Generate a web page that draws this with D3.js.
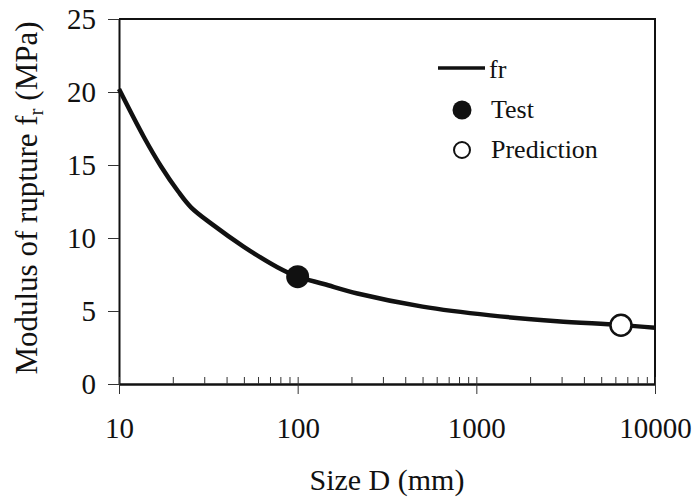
<!DOCTYPE html>
<html>
<head>
<meta charset="utf-8">
<script src="https://cdn.jsdelivr.net/npm/d3@7"></script>
<style>
  body { margin: 0; background: #fff; }
  svg text { font-family: "Liberation Serif", "DejaVu Serif", serif !important; fill: #111; }
</style>
</head>
<body>
<div id="chart"></div>
<script>
// curve fr(D)
const sizeD = [10, 13.8, 17.2, 21.4, 25.3, 32.7, 50, 77, 100, 140, 216, 500, 1200, 2830, 6300, 10000];
const frVals = [20.2, 16.9, 14.9, 13.2, 12.1, 11.0, 9.4, 8.0, 7.35, 6.85, 6.2, 5.3, 4.7, 4.3, 4.05, 3.85];

const testPoint = [[100, 7.35]];
const predPoint = [[6450, 4.02]];

const xMajor = [10, 100, 1000, 10000];
const yTicks = [0, 5, 10, 15, 20, 25];
const legendItems = ['fr', 'Test', 'Prediction'];

const width = 695;
const height = 504;
const margin = { top: 19, right: 40, bottom: 120, left: 119 };
const serif = '"Liberation Serif", "DejaVu Serif", serif';

const svg = d3
  .select('#chart')
  .append('svg')
  .attr('width', width)
  .attr('height', height)
  .attr('font-family', serif);

const x = d3
  .scaleLog()
  .domain([10, 10000])
  .range([margin.left, width - margin.right]);

const y = d3
  .scaleLinear()
  .domain([0, 25])
  .range([height - margin.bottom, margin.top]);

// minor ticks 20..90, 200..900, ...
const xMinor = [];
[10, 100, 1000].forEach((d) => {
  for (let k = 2; k <= 9; k++) xMinor.push(d * k);
});

// frame (top + right)
svg
  .append('path')
  .attr('d', `M${x(10)},${y(25)}H${x(10000)}V${y(0)}`)
  .attr('fill', 'none')
  .attr('stroke', '#111')
  .attr('stroke-width', 2);

// y axis
const yAxis = svg
  .append('g')
  .attr('transform', `translate(${x(10)},0)`)
  .call(d3.axisLeft(y).tickValues(yTicks).tickSize(11).tickPadding(12).tickSizeOuter(0))
  .attr('font-family', serif);

yAxis.select('.domain').attr('stroke', '#111').attr('stroke-width', 2);
yAxis.selectAll('.tick line').attr('stroke', '#333').attr('stroke-width', 1);
yAxis.selectAll('text').attr('font-size', 29).attr('fill', '#111').attr('dy', '0.34em');

// x axis, major ticks downward
const xAxis = svg
  .append('g')
  .attr('transform', `translate(0,${y(0)})`)
  .call(
    d3
      .axisBottom(x)
      .tickValues(xMajor)
      .tickFormat(d3.format('d'))
      .tickSize(10)
      .tickPadding(23)
      .tickSizeOuter(0)
  )
  .attr('font-family', serif);

xAxis.select('.domain').attr('stroke', '#111').attr('stroke-width', 2.5);
xAxis.selectAll('.tick line').attr('y1', -7).attr('stroke', '#333').attr('stroke-width', 1);
xAxis.selectAll('text').attr('font-size', 29).attr('fill', '#111');

// x axis minor ticks, pointing inside
svg
  .append('g')
  .attr('transform', `translate(0,${y(0)})`)
  .call(d3.axisBottom(x).tickValues(xMinor).tickFormat('').tickSize(-7))
  .call((g) => g.select('.domain').remove())
  .selectAll('.tick line')
  .attr('stroke', '#333')
  .attr('stroke-width', 1);

// axis titles
svg
  .append('text')
  .attr('x', x(316))
  .attr('y', 490)
  .attr('text-anchor', 'middle')
  .attr('font-size', 30)
  .text('Size D (mm)');

const yTitle = svg
  .append('text')
  .attr('transform', `translate(37,198) rotate(-90)`)
  .attr('text-anchor', 'middle')
  .attr('font-size', 31);
yTitle.append('tspan').text('Modulus of rupture f');
yTitle.append('tspan').attr('font-size', 21).attr('dy', 6).text('r');
yTitle.append('tspan').attr('dy', -6).text(' (MPa)');

// curve
const line = d3
  .line()
  .x((d, i) => x(sizeD[i]))
  .y((d) => y(d))
  .curve(d3.curveCatmullRom.alpha(0.5));

svg
  .append('path')
  .datum(frVals)
  .attr('d', line)
  .attr('fill', 'none')
  .attr('stroke', '#111')
  .attr('stroke-width', 4.5)
  .attr('stroke-linejoin', 'round');

// markers
svg
  .selectAll('.test')
  .data(testPoint)
  .join('circle')
  .attr('cx', (d) => x(d[0]))
  .attr('cy', (d) => y(d[1]))
  .attr('r', 11.5)
  .attr('fill', '#111');

svg
  .selectAll('.pred')
  .data(predPoint)
  .join('circle')
  .attr('cx', (d) => x(d[0]))
  .attr('cy', (d) => y(d[1]))
  .attr('r', 10.5)
  .attr('fill', '#fff')
  .attr('stroke', '#111')
  .attr('stroke-width', 2.5);

// legend
const legend = svg.append('g').attr('transform', 'translate(438,68)');

legend
  .append('line')
  .attr('x1', 0)
  .attr('x2', 47)
  .attr('stroke', '#111')
  .attr('stroke-width', 3.5);

legend
  .append('circle')
  .attr('cx', 24)
  .attr('cy', 42)
  .attr('r', 9.5)
  .attr('fill', '#111');

legend
  .append('circle')
  .attr('cx', 24)
  .attr('cy', 82)
  .attr('r', 8)
  .attr('fill', '#fff')
  .attr('stroke', '#111')
  .attr('stroke-width', 2);

legend
  .selectAll('text')
  .data(legendItems)
  .join('text')
  .attr('x', (d, i) => (i === 0 ? 51 : 53))
  .attr('y', (d, i) => 10 + i * 40)
  .attr('font-size', 26)
  .text((d) => d);
</script>
</body>
</html>
